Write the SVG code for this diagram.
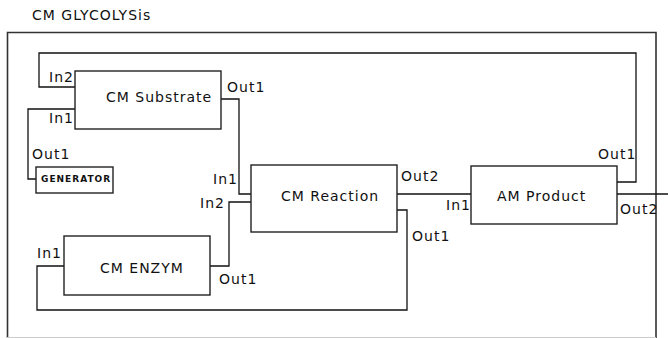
<svg xmlns="http://www.w3.org/2000/svg" width="668" height="338" viewBox="0 0 668 338">
<style>
.t{font-family:"DejaVu Sans","Liberation Sans",sans-serif;font-size:14px;letter-spacing:1px;fill:#111}
.box{fill:#fff;stroke:#222;stroke-width:1.4}
.c{fill:none;stroke:#111;stroke-width:1.3}
.g{font-family:"DejaVu Sans","Liberation Sans",sans-serif;font-size:9px;font-weight:bold;letter-spacing:1px;fill:#111}
</style>
<rect width="668" height="338" fill="#fff"/>
<text class="t" x="32" y="20">CM GLYCOLYSis</text>
<path d="M7.5,338 V32.5 H656 V338" fill="none" stroke="#333" stroke-width="1.6"/>
<line x1="7" y1="337.5" x2="656" y2="337.5" stroke="#ccc" stroke-width="1"/>
<g id="connectors">
<path class="c" d="M77,87 H39 V53 H636 V182 H617"/>
<path class="c" d="M221,99 H239 V194 H251"/>
<path class="c" d="M75,109 H28 V179 H36"/>
<path class="c" d="M210,266 H229 V202 H251"/>
<path class="c" d="M397,210 H407 V310 H37 V266 H64"/>
<path class="c" d="M397,194 H471"/>
<path class="c" d="M617,194 H668"/>
</g>
<g id="substrate">
<rect class="box" x="75" y="71" width="146" height="58"/>
<text class="t" x="106" y="102">CM Substrate</text>
<text class="t" x="49" y="82">In2</text>
<text class="t" x="49" y="123">In1</text>
<text class="t" x="227" y="92">Out1</text>
</g>
<g id="generator">
<rect class="box" x="36" y="167" width="77" height="26"/>
<text class="g" x="41" y="182">GENERATOR</text>
<text class="t" x="32" y="159">Out1</text>
</g>
<g id="reaction">
<rect class="box" x="251" y="165" width="146" height="67"/>
<text class="t" x="281" y="201">CM Reaction</text>
<text class="t" x="213" y="184">In1</text>
<text class="t" x="200" y="208">In2</text>
<text class="t" x="401" y="181">Out2</text>
<text class="t" x="412" y="241">Out1</text>
</g>
<g id="enzym">
<rect class="box" x="64" y="236" width="146" height="59"/>
<text class="t" x="100" y="273">CM ENZYM</text>
<text class="t" x="37" y="258">In1</text>
<text class="t" x="219" y="284">Out1</text>
</g>
<g id="product">
<rect class="box" x="471" y="166" width="146" height="58"/>
<text class="t" x="497" y="201">AM Product</text>
<text class="t" x="446" y="210">In1</text>
<text class="t" x="598" y="159">Out1</text>
<text class="t" x="620" y="214">Out2</text>
</g>
</svg>
